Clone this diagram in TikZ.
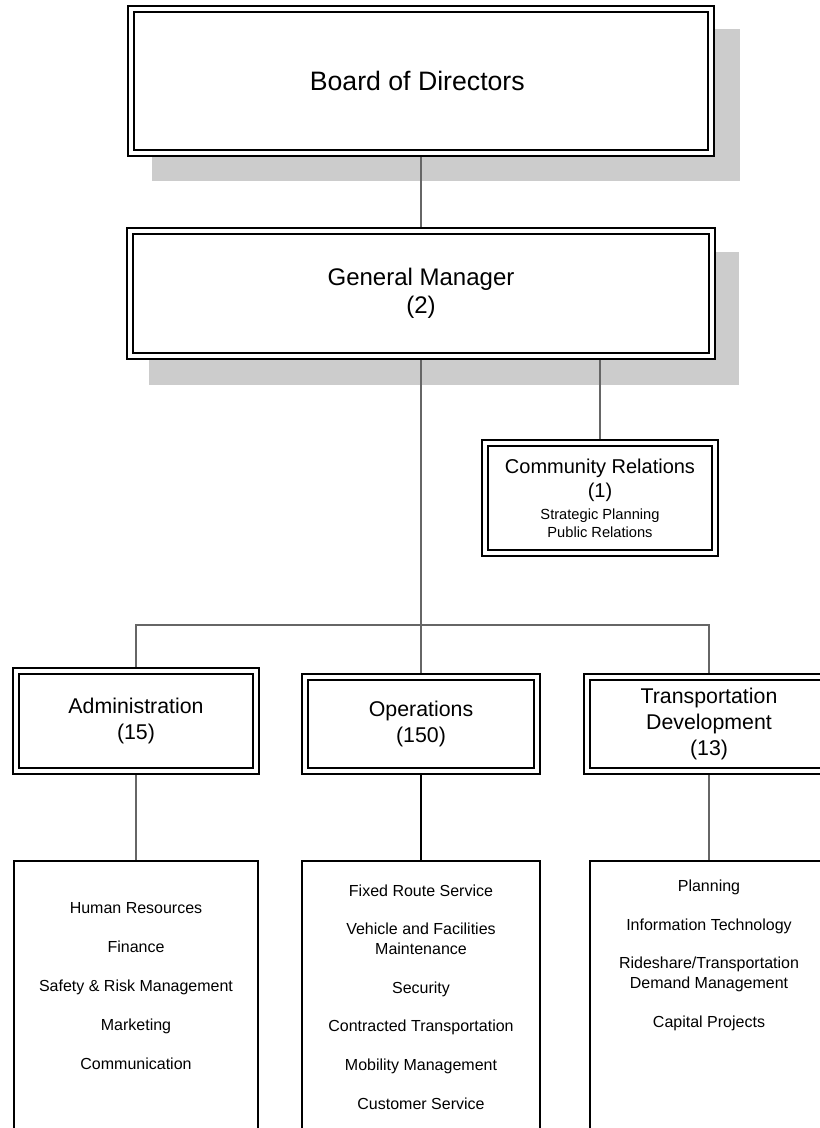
\documentclass[tikz,border=0pt]{standalone}
\usepackage{fontspec}
\setmainfont{Liberation Sans}
\usetikzlibrary{positioning,backgrounds}

\begin{document}
\begin{tikzpicture}[x=0.75pt, y=-0.75pt,
    every node/.style={
        rectangle,
        inner sep=0pt,
        align=center
    },
    office/.style={
        draw,
        double,
        line width=1.5pt,
        double distance=3pt,
        fill=white,
        outer sep=3pt
    },
    units/.style={
        draw,
        line width=1.5pt,
        fill=white,
        anchor=north,
        minimum height=300pt
    },
    unitlist/.style={
        font=\fontsize{12}{14.55}\selectfont
    },
    link/.style={black!60, line width=0.9pt}
]
    \useasboundingbox (0,0) rectangle (820,1128);
    \clip (0,0) rectangle (820,1128);

    %top
    \node (board_of_directors) [office, minimum width=435pt, minimum height=108pt,
        font=\fontsize{20}{24}\selectfont, shift={(421, 81)}]
    {
        Board of Directors
    };
    \node (general_manager) [office, minimum width=436.5pt, minimum height=93.75pt,
        font=\fontsize{18}{21}\selectfont, shift={(421, 293.5)}]
    {
        General Manager\\(2)
    };
    \node (community_relations) [office, minimum width=172.5pt, minimum height=82.5pt,
        font=\fontsize{15}{18}\selectfont, shift={(600, 498)}]
    {
        Community Relations\\(1)\\[-1.5pt]
        {\fontsize{11}{13.5}\selectfont Strategic Planning}\\[-4.5pt]
        {\fontsize{11}{13.5}\selectfont Public Relations}
    };

    %departments
    \node (administration) [office, minimum width=180pt, minimum height=75pt,
        font=\fontsize{16}{19}\selectfont, shift={(136, 721)}]
    {
        Administration\\(15)
    };
    \node (operations) [office, minimum width=174pt, minimum height=70.5pt,
        font=\fontsize{16}{19}\selectfont, shift={(421, 724)}]
    {
        Operations\\(150)
    };
    \node (transportation_development) [office, minimum width=183pt, minimum height=70.5pt,
        font=\fontsize{16}{19.5}\selectfont, shift={(709, 724)}]
    {
        Transportation\\Development\\(13)
    };

    %units
    \node (administration_units) [units, minimum width=183pt, shift={(136, 860)}] {};
    \node (operations_units) [units, minimum width=178.5pt, shift={(421, 860)}] {};
    \node (transportation_development_units) [units, minimum width=178.5pt, shift={(709, 860)}] {};

    \node (administration_list) [unitlist, shift={(136, 986)}]
    {
        Human Resources\\[14.55pt]
        Finance\\[14.55pt]
        Safety \& Risk Management\\[14.55pt]
        Marketing\\[14.55pt]
        Communication
    };
    \node (operations_list) [unitlist, shift={(421, 997)}]
    {
        Fixed Route Service\\[14.55pt]
        Vehicle and Facilities\\Maintenance\\[14.55pt]
        Security\\[14.55pt]
        Contracted Transportation\\[14.55pt]
        Mobility Management\\[14.55pt]
        Customer Service
    };
    \node (transportation_development_list) [unitlist, shift={(709, 955)}]
    {
        Planning\\[14.55pt]
        Information Technology\\[14.55pt]
        Rideshare/Transportation\\Demand Management\\[14.55pt]
        Capital Projects
    };

    %lines
    \coordinate (bus) at (421, 625);
    \draw[link] (board_of_directors) to (general_manager);
    \draw[link] (general_manager) to (operations);
    \draw[link] (general_manager.south -| community_relations) to (community_relations);
    \draw[link] (administration) |- (bus) -| (transportation_development);

    \draw[link] (administration) to (administration_units);
    \draw[black, line width=1.5pt] (operations) to (operations_units);
    \draw[link] (transportation_development) to (transportation_development_units);

    %shadows
    \begin{scope}[on background layer]
        \fill[white] (0,0) rectangle (820,1128);
        \fill[black!20] ([shift={(25,24)}]board_of_directors.north west)
            rectangle ([shift={(25,24)}]board_of_directors.south east);
        \fill[black!20] ([shift={(23,25)}]general_manager.north west)
            rectangle ([shift={(23,25)}]general_manager.south east);
    \end{scope}

\end{tikzpicture}
\end{document}
